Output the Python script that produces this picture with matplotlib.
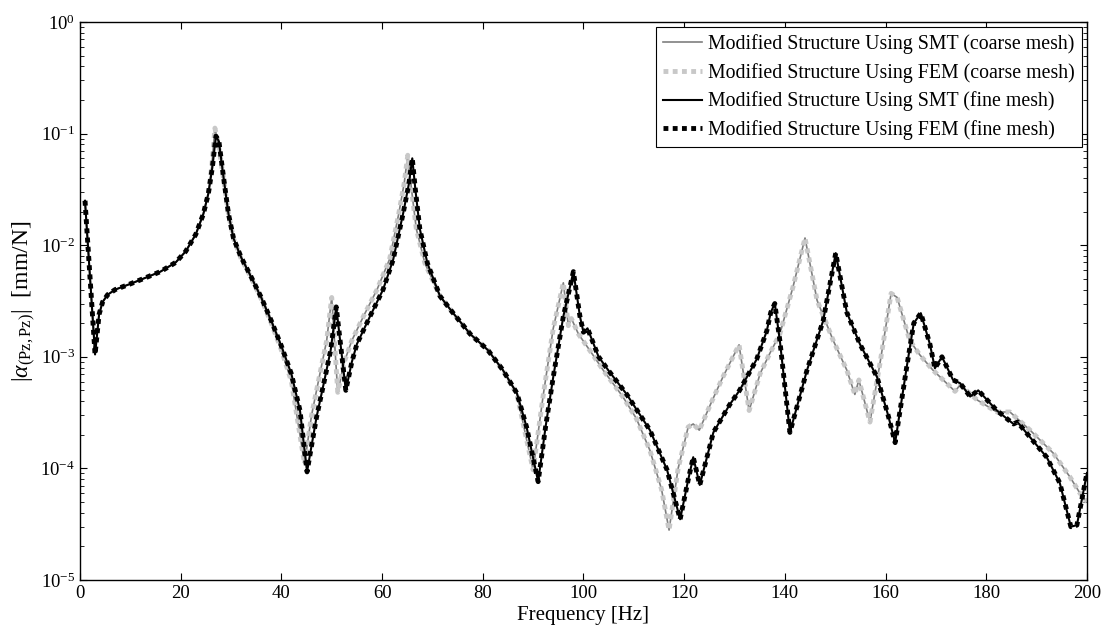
import numpy as np
import matplotlib
matplotlib.use('Agg')
import matplotlib.pyplot as plt
from matplotlib.ticker import LogLocator, MultipleLocator, NullFormatter

plt.rcParams['font.family'] = ['Liberation Serif', 'DejaVu Serif']
plt.rcParams['mathtext.fontset'] = 'custom'
plt.rcParams['mathtext.rm'] = 'Liberation Serif'
plt.rcParams['mathtext.it'] = 'Liberation Serif:italic'

# malla gruesa (coarse mesh): frecuencia [Hz] y |alpha| [mm/N]
f_coarse = [1, 3.0, 3.8, 4.5, 5.5, 7, 10, 13, 16, 19, 21, 23, 24.5, 25.5, 26.2, 26.8,
            27.5, 28.5, 29.5, 30.5, 32, 34, 36, 38, 40, 42, 44.6, 46, 47.5, 49, 50.0,
            51.2, 52.5, 54, 56.5, 59, 61.5, 63.3, 64.4, 65.1, 65.8, 66.8, 68.5, 71.5,
            74, 77.5, 81, 84, 86.8, 88.5, 90, 92, 94, 96, 97, 97.6, 99, 101.5, 104,
            107.8, 110.5, 113.2, 115.5, 117, 118.8, 120.8, 121.8, 123, 125.5, 127.7,
            130.9, 132.9, 135.1, 137, 139, 141.6, 144, 146.4, 149.6, 152.3, 153.9,
            154.7, 156.9, 158.9, 161.1, 162.3, 164.8, 166.8, 169.4, 173.8, 174.8,
            178.2, 182.1, 184.7, 188.7, 193.3, 196.6, 198.6, 200]
a_coarse = [2.5e-2, 1.05e-3, 2.4e-3, 3.1e-3, 3.6e-3, 4.0e-3, 4.5e-3, 5.1e-3, 5.8e-3,
            7.0e-3, 8.8e-3, 1.25e-2, 1.9e-2, 2.9e-2, 5.2e-2, 1.12e-1, 8.0e-2, 4.0e-2,
            1.9e-2, 1.15e-2, 7.6e-3, 5.1e-3, 3.3e-3, 2.0e-3, 1.15e-3, 6.0e-4, 1.1e-4,
            3.0e-4, 6.5e-4, 1.4e-3, 3.4e-3, 4.8e-4, 9.0e-4, 1.4e-3, 2.4e-3, 4.0e-3,
            7.5e-3, 1.9e-2, 3.6e-2, 6.4e-2, 3.3e-2, 1.4e-2, 6.9e-3, 3.5e-3, 2.5e-3,
            1.6e-3, 1.15e-3, 7.6e-4, 4.6e-4, 2.0e-4, 9.7e-5, 4.5e-4, 1.8e-3, 4.6e-3,
            1.9e-3, 2.2e-3, 1.6e-3, 1.1e-3, 7.5e-4, 4.4e-4, 2.8e-4, 1.45e-4, 6.5e-5,
            2.8e-5, 1.0e-4, 2.35e-4, 2.5e-4, 2.2e-4, 4.0e-4, 6.6e-4, 1.28e-3, 3.3e-4,
            7.1e-4, 1.07e-3, 1.6e-3, 4.2e-3, 1.16e-2, 3.2e-3, 1.4e-3, 7.6e-4, 4.6e-4,
            6.2e-4, 2.6e-4, 8.8e-4, 3.7e-3, 3.4e-3, 1.4e-3, 1.04e-3, 7.6e-4, 4.9e-4,
            5.6e-4, 4.1e-4, 3.2e-4, 3.2e-4, 2.2e-4, 1.37e-4, 8.4e-5, 6.0e-5, 5.0e-5]

# malla fina (fine mesh)
f_fine = [1, 3.0, 3.8, 4.5, 5.5, 7, 10, 13, 16, 19, 21, 23, 24.5, 25.5, 26.3, 27.0,
          27.6, 28.5, 29.5, 30.5, 32, 34, 36, 38, 40, 42, 43.7, 45.1, 46, 47, 48.5,
          49.8, 50.9, 52.8, 54, 55, 57.6, 60.2, 62.2, 64.2, 65.3, 66.0, 66.6, 67.5,
          69, 71.5, 74, 77.5, 81, 84, 86.8, 88.7, 91, 92.5, 94, 96, 98, 99.3, 100,
          100.8, 103, 105, 108.6, 113.2, 116.6, 119.2, 120.8, 121.8, 123.1, 125.8,
          129, 131, 134.4, 136.4, 137.2, 138, 139, 141, 144.4, 147.6, 150.1, 152.3,
          154.9, 158.3, 160.5, 161.9, 164.2, 165.6, 167, 168.8, 169.8, 171.2, 173.4,
          174.8, 176.8, 178.4, 182.1, 185.4, 186.2, 188.7, 192, 194.6, 196.8, 198, 200]
a_fine = [2.5e-2, 1.05e-3, 2.4e-3, 3.1e-3, 3.6e-3, 4.0e-3, 4.5e-3, 5.1e-3, 5.8e-3,
          7.0e-3, 8.8e-3, 1.25e-2, 1.9e-2, 2.9e-2, 5.0e-2, 9.5e-2, 8.5e-2, 4.1e-2,
          1.9e-2, 1.15e-2, 7.8e-3, 5.2e-3, 3.4e-3, 2.1e-3, 1.25e-3, 7.0e-4, 3.3e-4,
          9.3e-5, 1.6e-4, 2.9e-4, 6.0e-4, 1.15e-3, 2.8e-3, 5.0e-4, 9.0e-4, 1.3e-3,
          2.3e-3, 4.0e-3, 7.4e-3, 1.94e-2, 3.5e-2, 6.0e-2, 3.2e-2, 1.4e-2, 6.9e-3,
          3.5e-3, 2.5e-3, 1.6e-3, 1.15e-3, 7.6e-4, 4.7e-4, 2.35e-4, 7.6e-5, 2.4e-4,
          6.6e-4, 2.3e-3, 5.8e-3, 2.3e-3, 1.66e-3, 1.8e-3, 1.0e-3, 7.5e-4, 4.6e-4,
          2.2e-4, 9.7e-5, 3.5e-5, 7.9e-5, 1.26e-4, 7.1e-5, 2.1e-4, 3.7e-4, 5.0e-4,
          9.5e-4, 1.7e-3, 2.5e-3, 3.0e-3, 1.4e-3, 2.1e-4, 7.6e-4, 2.1e-3, 8.5e-3,
          2.5e-3, 1.3e-3, 6.6e-4, 3.0e-4, 1.7e-4, 8.1e-4, 2.0e-3, 2.46e-3, 1.3e-3,
          7.9e-4, 1.0e-3, 6.2e-4, 5.8e-4, 4.4e-4, 5.0e-4, 3.3e-4, 2.5e-4, 2.6e-4,
          1.9e-4, 1.26e-4, 7.4e-5, 3.0e-5, 3.1e-5, 9.1e-5]

fig = plt.figure(figsize=(11.06, 6.30), dpi=100)
ax = fig.add_axes([0.0723, 0.0794, 0.9105, 0.8857])

# SMT y FEM coinciden en cada malla
ax.plot(f_coarse, a_coarse, color='#7f7f7f', lw=1.2,
        label='Modified Structure Using SMT (coarse mesh)')
ax.plot(f_coarse, a_coarse, color='#c8c8c8', lw=3.5, linestyle=(0, (1, 0.9)),
        dash_capstyle='butt', label='Modified Structure Using FEM (coarse mesh)')
ax.plot(f_fine, a_fine, color='black', lw=1.5,
        label='Modified Structure Using SMT (fine mesh)')
ax.plot(f_fine, a_fine, color='black', lw=3.5, linestyle=(0, (1, 0.9)),
        dash_capstyle='butt', label='Modified Structure Using FEM (fine mesh)')

ax.set_yscale('log')
ax.set_xlim(0, 200)
ax.set_ylim(1e-5, 1e0)
ax.xaxis.set_major_locator(MultipleLocator(20))
ax.yaxis.set_major_locator(LogLocator(base=10, numticks=10))
ax.yaxis.set_minor_locator(LogLocator(base=10, subs=np.arange(2, 10), numticks=10))
ax.yaxis.set_minor_formatter(NullFormatter())
ax.tick_params(which='both', direction='in', top=True, right=True, labelsize=13.5)
ax.tick_params(which='major', length=5)
ax.tick_params(which='minor', length=3)
for s in ax.spines.values():
    s.set_linewidth(1.0)

ax.set_xlabel('Frequency [Hz]', fontsize=15, labelpad=3)
ax.set_ylabel(r'$|\alpha_{(\mathrm{Pz,Pz})}|$  [mm/N]', fontsize=17, labelpad=2)

leg = ax.legend(loc='upper right', fontsize=14.3, handlelength=2.0, fancybox=False,
                framealpha=1, edgecolor='black', borderaxespad=0.25,
                labelspacing=0.45, borderpad=0.35, handletextpad=0.3)
leg.get_frame().set_linewidth(0.8)

plt.savefig('out.png', dpi=100)
